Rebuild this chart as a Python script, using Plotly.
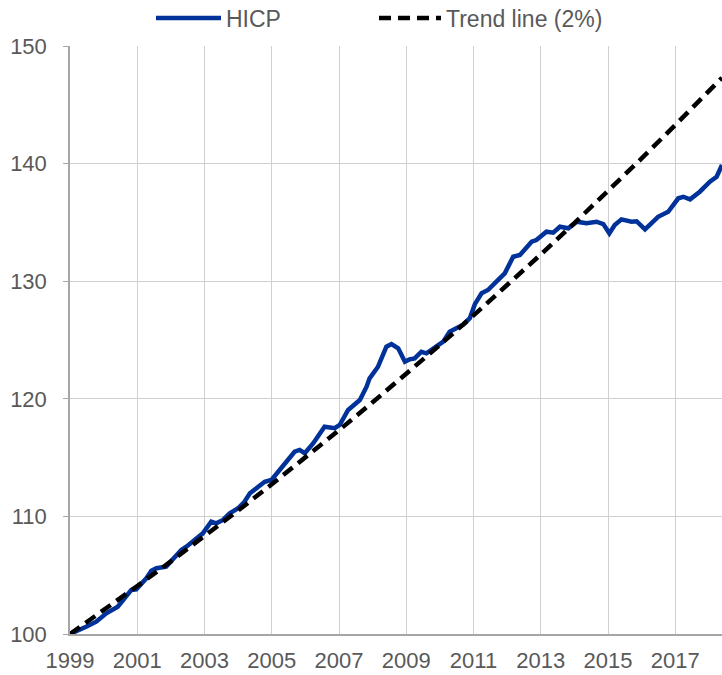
import plotly.graph_objects as go

# HICP index (Jan 1999 = 100)
hicp_year = [1999.0, 1999.25, 1999.48, 1999.78, 2000.08, 2000.42, 2000.57, 2000.82, 2000.97,
             2001.27, 2001.42, 2001.57, 2001.86, 2002.11, 2002.31, 2002.46, 2002.71, 2002.85,
             2002.95, 2003.2, 2003.35, 2003.55, 2003.75, 2004.0, 2004.19, 2004.35, 2004.79,
             2004.99, 2005.33, 2005.68, 2005.83, 2005.98, 2006.23, 2006.57, 2006.87, 2007.02,
             2007.27, 2007.62, 2007.82, 2007.91, 2008.16, 2008.41, 2008.56, 2008.76, 2008.96,
             2009.1, 2009.25, 2009.45, 2009.6, 2009.8, 2010.1, 2010.29, 2010.69, 2010.89,
             2011.04, 2011.24, 2011.43, 2011.68, 2011.93, 2012.18, 2012.38, 2012.73, 2012.87,
             2013.17, 2013.37, 2013.57, 2013.82, 2014.07, 2014.36, 2014.66, 2014.86, 2015.04,
             2015.2, 2015.4, 2015.7, 2015.85, 2016.1, 2016.49, 2016.79, 2017.09, 2017.24,
             2017.44, 2017.73, 2018.03, 2018.23, 2018.39]
hicp_value = [100.0, 100.3, 100.62, 101.05, 101.76, 102.32, 102.89, 103.74, 103.8,
              104.74, 105.38, 105.59, 105.73, 106.44, 107.14, 107.42, 107.99, 108.27,
              108.56, 109.55, 109.41, 109.7, 110.26, 110.69, 111.25, 111.96, 112.95,
              113.1, 114.23, 115.5, 115.65, 115.37, 116.2, 117.63, 117.5, 117.77,
              119.05, 119.9, 121.03, 121.74, 122.73, 124.43, 124.66, 124.3, 123.15,
              123.36, 123.44, 124.0, 123.87, 124.3, 124.86, 125.7, 126.3, 126.85,
              128.05, 128.97, 129.25, 129.96, 130.67, 132.08, 132.23, 133.36, 133.5,
              134.21, 134.13, 134.63, 134.5, 135.06, 134.92, 135.06, 134.86, 134.07,
              134.78, 135.26, 135.06, 135.1, 134.41, 135.48, 135.9, 137.05, 137.18,
              136.96, 137.61, 138.46, 138.88, 139.88]

# 2% trend line, read at each January
trend_year = [1999, 2000, 2001, 2002, 2003, 2004, 2005, 2006, 2007, 2008, 2009, 2010,
              2011, 2012, 2013, 2014, 2015, 2016, 2017, 2018, 2018.39]
trend_value = [100.0, 102.02, 104.08, 106.18, 108.32, 110.5, 112.73, 115.01, 117.33,
               119.7, 122.11, 124.58, 127.09, 129.66, 132.27, 134.94, 137.67, 140.44,
               143.28, 146.17, 147.3]

x_ticks = [1999, 2001, 2003, 2005, 2007, 2009, 2011, 2013, 2015, 2017]
y_ticks = [100, 110, 120, 130, 140, 150]

FONT = "Liberation Sans, Arial, sans-serif"
GREY = "#595959"

fig = go.Figure()
fig.add_trace(go.Scatter(x=hicp_year, y=hicp_value, mode="lines", name="HICP",
                         line=dict(color="#003299", width=4.5), legend="legend"))
fig.add_trace(go.Scatter(x=trend_year, y=trend_value, mode="lines", name="Trend line (2%)",
                         line=dict(color="#000000", width=4.5, dash="12px,7px"),
                         legend="legend2"))

legend_common = dict(orientation="h", xref="container", yref="container",
                     xanchor="left", y=1 - 18 / 675, yanchor="middle",
                     font=dict(family=FONT, size=23, color=GREY),
                     bgcolor="rgba(0,0,0,0)", borderwidth=0)

fig.update_layout(
    width=722, height=675,
    margin=dict(l=70, r=0, t=46, b=41, autoexpand=False),
    paper_bgcolor="white", plot_bgcolor="white",
    font=dict(family=FONT, size=22, color=GREY),
    showlegend=True,
    legend=dict(x=151 / 722, itemwidth=65, **legend_common),
    legend2=dict(x=374 / 722, itemwidth=62, **legend_common),
    xaxis=dict(range=[1999, 2018.39], tickvals=x_ticks, ticktext=[str(v) for v in x_ticks],
               showgrid=True, gridcolor="#d0d0d0", gridwidth=1,
               showline=True, linecolor="#a6a6a6", linewidth=1.5,
               ticks="", zeroline=False, automargin=False, ticklabelstandoff=6,
               tickfont=dict(family=FONT, size=22, color=GREY)),
    yaxis=dict(range=[100, 150], tickvals=y_ticks,
               showgrid=True, gridcolor="#d0d0d0", gridwidth=1,
               showline=True, linecolor="#a6a6a6", linewidth=1.5,
               ticks="outside", ticklen=5, tickcolor="#a6a6a6",
               ticklabelstandoff=12, zeroline=False, automargin=False,
               tickfont=dict(family=FONT, size=22, color=GREY)),
)

fig.write_html("out.html", config={"displayModeBar": False},
               post_script="document.body.style.margin='0';")
